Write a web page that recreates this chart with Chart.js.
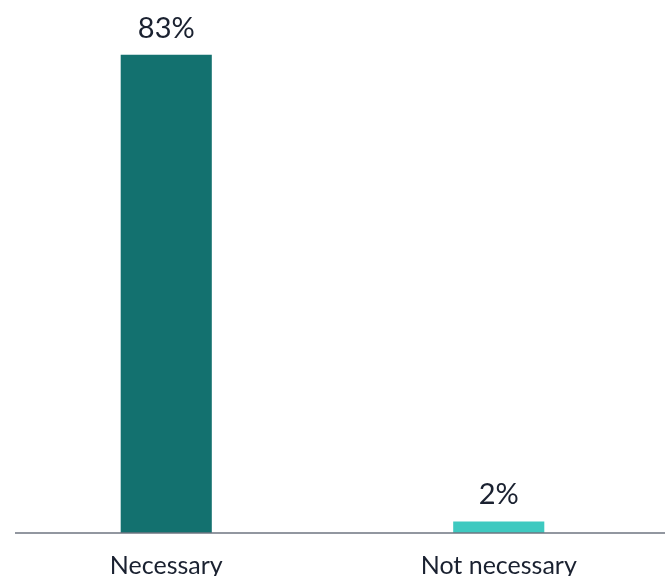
<!DOCTYPE html>
<html>
<head>
<meta charset="utf-8">
<script src="https://cdn.jsdelivr.net/npm/chart.js@4.4.1/dist/chart.umd.min.js"></script>
<style>
  html, body { margin: 0; padding: 0; background: #fff; overflow: hidden; }
  #wrap { width: 665px; height: 576px; }
</style>
</head>
<body>
<div id="wrap"><canvas id="chart"></canvas></div>
<script>
const categories = ['Necessary', 'Not necessary'];
const values = [83, 2];
const barColors = ['#13716f', '#3ec9c0'];

// value labels above the bars
const valueLabels = {
  id: 'valueLabels',
  afterDatasetsDraw(chart) {
    const ctx = chart.ctx;
    const meta = chart.getDatasetMeta(0);
    ctx.save();
    ctx.fillStyle = '#1a2130';
    ctx.font = '29px Lato';
    ctx.textAlign = 'center';
    ctx.textBaseline = 'bottom';
    meta.data.forEach((bar, i) => {
      ctx.fillText(values[i] + '%', bar.x, bar.y - 12);
    });
    ctx.restore();
  }
};

// baseline under the bars, starts a little right of the left edge
const baseline = {
  id: 'baseline',
  afterDatasetsDraw(chart) {
    const ctx = chart.ctx;
    const y = chart.scales.y.getPixelForValue(0);
    ctx.save();
    ctx.strokeStyle = '#6e7580';
    ctx.lineWidth = 1.5;
    ctx.beginPath();
    ctx.moveTo(15, y);
    ctx.lineTo(chart.chartArea.right, y);
    ctx.stroke();
    ctx.restore();
  }
};

new Chart(document.getElementById('chart'), {
  type: 'bar',
  data: {
    labels: categories,
    datasets: [{
      data: values,
      backgroundColor: barColors,
      barPercentage: 1,
      categoryPercentage: 0.274
    }]
  },
  options: {
    responsive: true,
    maintainAspectRatio: false,
    animation: false,
    layout: { padding: 0 },
    plugins: {
      legend: { display: false },
      tooltip: { enabled: false }
    },
    scales: {
      x: {
        grid: { display: false, drawTicks: false },
        border: { display: false },
        ticks: { color: '#1a2130', font: { family: 'Lato', size: 25 }, padding: 18 },
        afterFit(scale) { scale.height = 43; }
      },
      y: {
        display: false,
        min: 0,
        max: 92.5
      }
    }
  },
  plugins: [valueLabels, baseline]
});
</script>
</body>
</html>
